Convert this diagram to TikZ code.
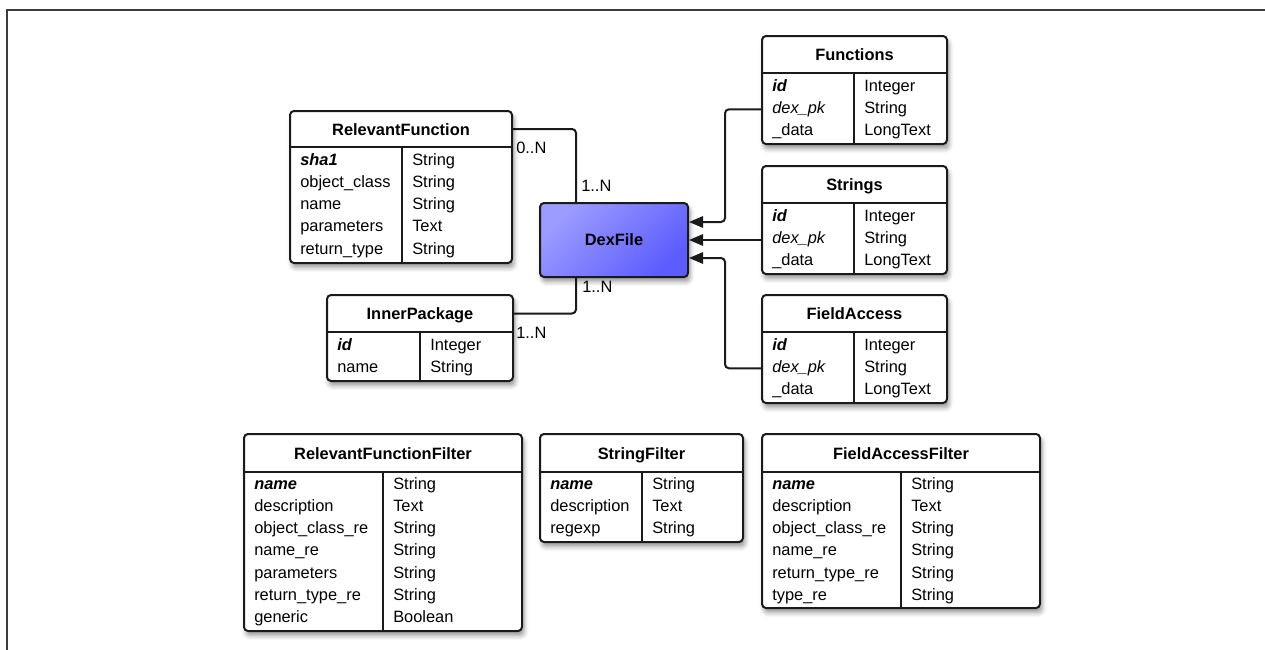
\documentclass[tikz,border=0pt]{standalone}
\usepackage{fontspec}
\setmainfont{Liberation Sans}
\usetikzlibrary{arrows.meta,shadows.blur}

\definecolor{framegray}{HTML}{3C3C3C}
\definecolor{inkline}{HTML}{1A1A1A}
\definecolor{dexlight}{HTML}{9C9CFF}
\definecolor{dexdark}{HTML}{5C5CFF}

\newcommand\erfont{\fontsize{12.3}{14}\selectfont}

\tikzset{
  softshadow/.style={blur shadow={shadow xshift=1.5pt, shadow yshift=-3.5pt,
      shadow blur radius=3.5pt, shadow opacity=40}},
  tablebox/.style={draw=inkline, line width=1.5pt, rounded corners=3pt,
      fill=white, inner sep=0pt, softshadow},
  dexbox/.style={draw=inkline, line width=1.5pt, rounded corners=3pt,
      top color=dexlight, bottom color=dexdark, shading angle=45,
      inner sep=0pt, softshadow, font=\erfont\bfseries},
  titletext/.style={anchor=base, inner sep=0pt, font=\erfont\bfseries},
  celltext/.style={anchor=base west, inner sep=0pt, text height=8.5pt,
      text depth=2.5pt, font=\erfont},
  cardtext/.style={anchor=base west, inner sep=0pt, font=\erfont},
  rule/.style={draw=inkline, line width=1.5pt},
  conn/.style={draw=inkline, line width=1.5pt, rounded corners=3pt},
  toward/.style={-{Triangle[length=10.5pt, width=8.5pt]}},
}

% #1 name, #2 left, #3 top, #4 right, #5 bottom, #6 column divider,
% #7 header separator, #8 title
\newcommand\erentity[8]{%
  \node[tablebox, minimum width={(#4-#2)*0.75pt},
        minimum height={(#5-#3)*0.75pt}] (#1) at ({(#2+#4)/2},{(#3+#5)/2}) {};
  \coordinate (#1-hd) at ({(#2+#4)/2},{(#3+#7)/2});
  \node[titletext] (#1-title) at ({(#2+#4)/2},{(#3+#7)/2+6}) {#8};
  \draw[rule] (#1.west |- 0,#7) -- (#1.east |- 0,#7);
  \draw[rule] (#6,#7) -- (#6,#5);
}

% #1 name, #2 left, #3 column divider, #4 first baseline, #5 key/type rows
\newcommand\errows[5]{%
  \foreach \a/\b [count=\i] in {#5} {
    \node[celltext] (#1-k\i) at ({#2+10},{#4+(\i-1)*22.3}) {\a};
    \node[celltext] (#1-t\i) at ({#3+10},{#4+(\i-1)*22.3}) {\b};
  }
}

\begin{document}
\begin{tikzpicture}[x=0.75pt, y=-0.75pt]
\useasboundingbox (0,0) rectangle (1265,650);

% page frame
\draw[framegray, line width=1.5pt] (6.5,660) -- (6.5,9.5) -- (1275,9.5);

% central entity
\node[dexbox, minimum width=111pt, minimum height=55.5pt] (dex) at (614,240) {DexFile};

% tables linked to DexFile
\erentity{rf}{290}{111}{512}{263}{402}{147}{RelevantFunction}
\errows{rf}{290}{402}{165}{\textbf{\textit{sha1}}/String, object\_class/String,
  name/String, parameters/Text, return\_type/String}

\erentity{ip}{327}{295}{513}{381}{420}{332}{InnerPackage}
\errows{ip}{327}{420}{350}{\textbf{\textit{id}}/Integer, name/String}

\erentity{fn}{762}{36}{947}{144}{854}{73}{Functions}
\errows{fn}{762}{854}{91}{\textbf{\textit{id}}/Integer, \textit{dex\_pk}/String, \_data/LongText}

\erentity{st}{762}{166}{947}{274}{854}{203}{Strings}
\errows{st}{762}{854}{221}{\textbf{\textit{id}}/Integer, \textit{dex\_pk}/String, \_data/LongText}

\erentity{fa}{762}{295}{947}{403}{854}{332}{FieldAccess}
\errows{fa}{762}{854}{350}{\textbf{\textit{id}}/Integer, \textit{dex\_pk}/String, \_data/LongText}

% filter tables
\erentity{rff}{244}{434}{522}{631}{383}{472}{RelevantFunctionFilter}
\errows{rff}{244}{383}{489}{\textbf{\textit{name}}/String, description/Text,
  object\_class\_re/String, name\_re/String, parameters/String,
  return\_type\_re/String, generic/Boolean}

\erentity{sf}{540}{434}{743}{542}{642}{472}{StringFilter}
\errows{sf}{540}{642}{489}{\textbf{\textit{name}}/String, description/Text, regexp/String}

\erentity{faf}{762}{434}{1040}{608}{901}{472}{FieldAccessFilter}
\errows{faf}{762}{901}{489}{\textbf{\textit{name}}/String, description/Text,
  object\_class\_re/String, name\_re/String, return\_type\_re/String, type\_re/String}

% relations
\draw[conn] (rf.east |- rf-hd) -| ([xshift=27.75pt]dex.north west);
\draw[conn] (ip.east |- ip-hd) -| ([xshift=27.75pt]dex.south west);
\draw[conn, toward] (fn.west |- fn-k2) -- ++(-36,0) |- ([yshift=13.5pt]dex.east);
\draw[conn, toward] (st.west |- dex.east) -- (dex.east);
\draw[conn, toward] (fa.west |- fa-k2) -- ++(-36,0) |- ([yshift=-13.5pt]dex.east);

% cardinalities
\node[cardtext] (c-rf) at (516,153) {0..N};
\node[cardtext] (c-dexn) at (581,191) {1..N};
\node[cardtext] (c-dexs) at (582,292) {1..N};
\node[cardtext] (c-ip) at (516,338) {1..N};
\end{tikzpicture}
\end{document}
